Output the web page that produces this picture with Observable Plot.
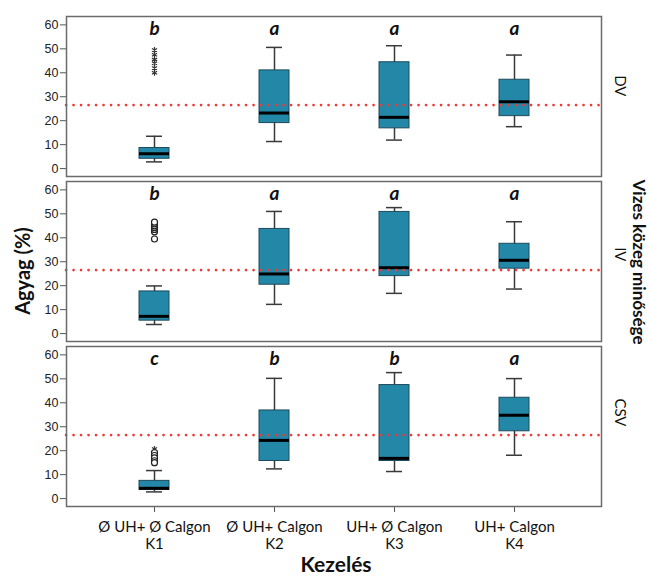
<!DOCTYPE html>
<html>
<head>
<meta charset="utf-8">
<script src="https://cdn.jsdelivr.net/npm/d3@7"></script>
<script src="https://cdn.jsdelivr.net/npm/@observablehq/plot@0.6"></script>
<style>
  html, body { margin: 0; padding: 0; background: #fff; }
  #chart { width: 650px; height: 577px; }
</style>
</head>
<body>
<div id="chart"></div>
<script>
// ---- data ----
const panels = ["DV", "IV", "CSV"];
const treatments = ["K1", "K2", "K3", "K4"];
const tickLabels = ["Ø UH+ Ø Calgon\nK1", "Ø UH+ Calgon\nK2", "UH+ Ø Calgon\nK3", "UH+ Calgon\nK4"];
// one row per panel (DV, IV, CSV), one value per treatment (K1..K4)
const whiskerLow  = [[2.8, 11.3, 11.9, 17.5], [3.8, 12.2, 16.8, 18.6], [2.8, 12.4, 11.3, 18.1]];
const q1          = [[4.1, 19.0, 16.8, 21.9], [5.4, 20.4, 24.0, 27.1], [3.6, 15.7, 15.7, 28.1]];
const median      = [[6.2, 23.2, 21.4, 27.9], [7.2, 24.9, 27.5, 30.6], [4.3, 24.3, 16.8, 34.8]];
const q3          = [[8.6, 41.0, 44.4, 37.1], [17.6, 43.7, 50.8, 37.5], [7.4, 36.8, 47.4, 42.1]];
const whiskerHigh = [[13.5, 50.6, 51.3, 47.4], [19.9, 51.0, 52.6, 46.7], [11.7, 50.2, 52.6, 50.1]];
const letters     = [["b", "a", "a", "a"], ["b", "a", "a", "a"], ["c", "b", "b", "a"]];
// outliers of K1 per panel
const starOutliers   = [[49.5, 47.5, 45.5, 44.0, 42.0, 40.0], [], [20.7]];
const circleOutliers = [[], [39.5, 42.5, 43.5, 44.3, 45.0, 45.8, 46.5], [19.2, 18.0, 17.0, 15.8, 15.0]];
const referenceLine = 26.5;
const yTicks = [0, 10, 20, 30, 40, 50, 60];

// ---- build tables ----
const boxes = [];
panels.forEach((p, i) => treatments.forEach((t, j) => boxes.push({
  panel: p, k: t, lo: whiskerLow[i][j], q1: q1[i][j], med: median[i][j],
  q3: q3[i][j], hi: whiskerHigh[i][j], letter: letters[i][j]
})));
const stars = [], circles = [];
panels.forEach((p, i) => {
  starOutliers[i].forEach(v => stars.push({panel: p, k: "K1", v}));
  circleOutliers[i].forEach(v => circles.push({panel: p, k: "K1", v}));
});

const chart = Plot.plot({
  width: 650,
  height: 577,
  marginTop: 15,
  marginBottom: 69,
  marginLeft: 66,
  marginRight: 49,
  style: {fontFamily: "'Liberation Sans', Arial, sans-serif", fontSize: "12.5px", color: "#222", background: "#fff"},
  x: {domain: treatments, type: "band", paddingInner: 0.751, paddingOuter: 0.597, axis: null},
  y: {domain: [-3.3, 63.5], axis: null},
  fy: {domain: panels, paddingInner: 0.0301, paddingOuter: 0, axis: null},
  marks: [
    Plot.axisY({ticks: yTicks, tickSize: 6, tickPadding: 2, label: null, stroke: "#555", fill: "#222", fontSize: 12.5}),
    Plot.axisX({tickSize: 6, tickPadding: 7, label: null, tickFormat: (d, i) => tickLabels[i],
      fontFamily: "Lato, 'Open Sans', sans-serif", fontSize: 15, lineHeight: 1.15, stroke: "#555", fill: "#111"}),
    // whiskers
    Plot.ruleX(boxes, {x: "k", fy: "panel", y1: "lo", y2: "hi", stroke: "#3a3a3a", strokeWidth: 1.5}),
    Plot.tickY(boxes, {x: "k", fy: "panel", y: "lo", stroke: "#3a3a3a", strokeWidth: 1.5, insetLeft: 7, insetRight: 7}),
    Plot.tickY(boxes, {x: "k", fy: "panel", y: "hi", stroke: "#3a3a3a", strokeWidth: 1.5, insetLeft: 7, insetRight: 7}),
    // boxes
    Plot.barY(boxes, {x: "k", fy: "panel", y1: "q1", y2: "q3", fill: "#2387a8", stroke: "#1e4a5a", strokeWidth: 1}),
    Plot.tickY(boxes, {x: "k", fy: "panel", y: "med", stroke: "#000", strokeWidth: 3}),
    // outliers
    Plot.dot(stars, {x: "k", fy: "panel", y: "v", symbol: "asterisk", r: 2.8, stroke: "#333", strokeWidth: 1.2}),
    Plot.dot(circles, {x: "k", fy: "panel", y: "v", symbol: "circle", r: 3, stroke: "#222", fill: "#fff", strokeWidth: 1.2}),
    // reference line
    Plot.ruleY([referenceLine], {stroke: "#f03a3a", strokeWidth: 2.6, strokeDasharray: "0.1 7.4", strokeLinecap: "round"}),
    // significance letters
    Plot.text(boxes, {x: "k", fy: "panel", text: "letter", frameAnchor: "top", dy: 18, lineAnchor: "bottom",
      fontStyle: "italic", fontWeight: "bold", fontSize: 19, fontFamily: "Lato, 'Open Sans', sans-serif", fill: "#111"}),
    // panel labels
    Plot.text(panels, {fy: d => d, text: d => d, frameAnchor: "right", dx: 18, rotate: 90,
      fontSize: 15, fontFamily: "Lato, 'Open Sans', sans-serif", fill: "#111"}),
    Plot.frame({stroke: "#6b6b6b", strokeWidth: 1.5})
  ]
});

const svg = d3.select(chart);
svg.append("text")
  .attr("transform", "translate(25,271) rotate(-90)")
  .attr("text-anchor", "middle").attr("dominant-baseline", "middle")
  .style("font", "bold 20px Lato, 'Open Sans', sans-serif").attr("fill", "#111")
  .text("Agyag (%)");
svg.append("text")
  .attr("x", 336).attr("y", 572)
  .attr("text-anchor", "middle")
  .style("font", "bold 21px Lato, 'Open Sans', sans-serif").attr("fill", "#111")
  .text("Kezelés");
svg.append("text")
  .attr("transform", "translate(633,262) rotate(90)")
  .attr("text-anchor", "middle")
  .style("font", "bold 17px Lato, 'Open Sans', sans-serif").attr("fill", "#111")
  .text("Vizes közeg minősége");

document.getElementById("chart").appendChild(chart);
</script>
</body>
</html>
